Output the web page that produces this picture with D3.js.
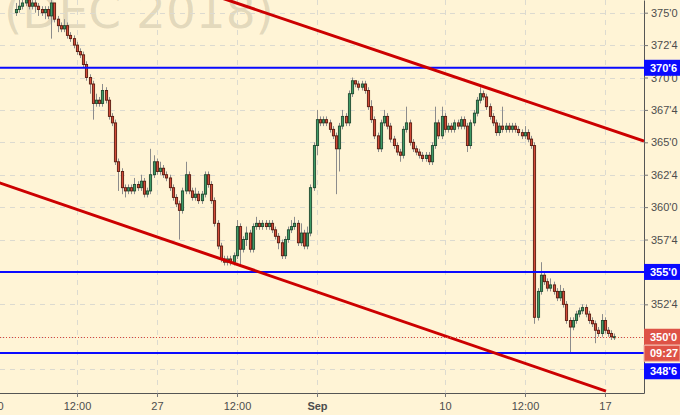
<!DOCTYPE html>
<html>
<head>
<meta charset="utf-8">
<script src="https://cdn.jsdelivr.net/npm/d3@7"></script>
<style>
 html,body{margin:0;padding:0;background:#fff4d6;}
 svg{display:block;}
 .tick text{font-family:"Liberation Sans",Arial,sans-serif;font-size:11px;fill:#4d4d4d;}
</style>
</head>
<body>
<div id="chart"></div>
<script>
// bars are 10 per trading day, the first one sits at day 0.594 (day 0 = Mon Aug 20)
var firstOpen=375.0;
var aug20Close=[375.25,375.5,375.75,376.0,375.5,375.75,375.5,375.25,375.0,375.25,374.75,375.75,374.5,374.0,373.75,374.0,373.25,373.0,372.5,372.0,371.75,371.0,370.0,369.5,368.0,368.25,368.0,369.0,368.25,367.0,366.5,363.5,362.75,361.5,361.25,361.5,361.25,361.75,361.5,362.0,361.0,361.25,362.5,363.5];
var aug20High=[375.75,376.0,376.25,376.5,376.25,376.25,376.0,375.75,375.5,375.5,375.5,376.25,375.75,374.75,374.25,374.5,374.25,373.5,373.25,372.75,372.25,372.0,371.25,370.25,369.75,368.75,368.5,369.5,369.25,368.5,367.25,366.75,363.75,363.0,361.75,361.75,361.75,362.25,362.0,362.5,362.25,361.5,364.5,364.0];
var aug20Low=[374.75,375.0,375.25,375.5,375.25,375.25,375.0,374.75,374.75,374.5,374.5,373.0,374.25,373.5,373.5,373.5,373.0,372.75,372.25,371.75,371.5,370.75,369.75,368.75,366.75,367.75,367.75,367.75,368.0,366.75,366.25,363.25,361.25,361.0,360.75,361.0,361.0,361.0,361.25,361.25,360.75,360.75,361.0,362.25];
var aug27Close=[362.75,363.0,362.5,362.25,361.5,360.75,360.25,359.75,361.25,362.5,361.25,360.75,361.0,360.5,361.0,362.5,361.75,360.5,358.75,357.0,356.0,355.75,356.0,355.75,356.25,358.5,356.75,357.5,358.0,356.75,358.5,358.75,358.5,358.75,358.5,358.75,358.25,357.75,357.25,356.25,357.5,358.25,358.5,358.75,357.25,358.0,357.0,358.0,361.5,364.75];
var aug27High=[363.75,363.5,363.25,362.75,362.5,361.75,361.0,360.5,361.5,363.5,362.75,361.5,361.5,361.25,361.25,362.75,362.75,362.0,360.75,359.0,357.25,356.25,356.25,356.25,356.5,359.0,358.75,357.75,358.5,358.25,358.75,359.25,359.0,359.0,359.0,359.0,359.0,358.5,358.0,357.5,357.75,358.5,359.0,359.25,359.0,358.75,358.25,358.5,361.75,365.0];
var aug27Low=[362.5,362.5,362.25,362.0,361.25,360.5,360.0,357.5,359.5,361.0,361.0,360.5,360.5,360.25,360.25,360.75,361.5,360.25,358.5,356.75,355.75,355.5,355.5,355.5,355.5,356.0,355.5,356.5,357.0,356.5,356.5,358.25,358.25,358.25,358.25,358.25,358.0,357.5,356.75,356.0,356.0,357.25,358.0,358.25,357.0,357.0,356.75,356.75,357.75,361.25];
var sep4Close=[366.75,366.5,366.75,366.5,366.0,365.5,364.5,366.25,367.0,366.5,368.75,369.75,369.5,369.25,369.5,369.0,367.75,366.75,365.5,364.5,366.5,367.0,366.25,365.25,364.75,364.25,364.0,366.0,366.5,365.0,364.5,364.25,364.0,363.75,364.0,363.5,364.75,366.5,365.5,367.0];
var sep4High=[367.5,367.0,367.0,367.0,366.75,366.25,365.75,366.5,367.5,367.25,369.0,370.0,369.75,369.75,369.75,369.75,369.25,368.25,367.0,365.75,366.75,367.5,367.25,366.5,365.5,365.0,364.5,366.25,367.75,366.75,365.25,364.75,364.5,364.25,364.25,364.25,365.0,367.75,366.75,367.75];
var sep4Low=[364.0,366.25,366.25,366.25,365.75,365.25,361.0,362.75,366.0,366.25,366.25,368.5,369.25,369.0,369.0,368.75,367.5,366.5,365.25,364.25,364.25,366.25,366.0,365.0,364.5,364.0,363.5,363.75,365.75,364.75,364.25,364.0,363.75,363.5,363.5,363.25,363.25,364.5,365.25,365.25];
var sep10Close=[366.0,366.25,366.0,366.5,366.25,366.75,366.25,364.75,366.5,367.25,368.25,368.75,368.5,367.75,367.0,366.5,365.75,366.25,366.0,366.25,366.0,366.25,366.0,365.75,365.5,365.75,365.25,364.75,351.5,353.5,354.75,354.25,353.75,354.0,353.5,353.0,353.5,352.5,351.25,350.75,351.25,351.75,352.0,352.25,351.75,351.25,351.0,350.5,350.25,351.25,350.5,350.25,350.0,350.0];
var sep10High=[367.25,366.5,366.5,366.75,366.75,367.0,367.0,366.5,366.75,367.5,368.5,369.25,369.0,368.75,368.0,367.25,366.75,366.5,367.75,366.5,366.5,366.5,366.5,366.25,366.0,366.25,366.0,365.5,365.0,353.75,355.75,355.0,354.5,354.5,354.25,353.75,354.0,353.75,352.75,351.5,351.5,352.0,352.25,352.5,352.5,352.0,351.5,351.25,350.75,351.75,351.5,350.75,350.5,350.25];
var sep10Low=[365.75,365.75,365.75,365.75,366.0,366.0,366.0,364.25,364.5,366.25,367.0,368.0,368.25,367.5,366.75,366.25,365.5,365.5,365.75,365.75,365.75,365.75,365.75,365.5,365.25,365.25,365.0,364.5,351.0,351.25,353.25,354.0,353.5,353.5,353.25,352.75,352.75,352.25,351.0,348.75,350.5,351.0,351.5,351.75,351.5,351.0,350.75,349.5,350.0,350.0,350.25,350.0,349.75,349.75];

var yTicks=[347.5,350,352.5,355,357.5,360,362.5,365,367.5,370,372.5,375];
var xTickDays=[0,2.5,5,7.5,10,14,16.5,19];
var xTickLabels=["20","12:00","27","12:00","Sep","10","12:00","17"];
var levels=[370.75,355.0,348.75];
var lastPrice=350.0;
var countdown="09:27";
var upperTrend=[[7.0,376.15],[20.22,365.1]];
var lowerTrend=[[0.0,361.94],[19.03,345.8]];
var title="(DEC 2018)";

(function()
{
 "use strict";
 var W=680,H=415,plotR=644,plotB=393;
 var barStartDay=0.594,barsPerDay=10;
 var closes=aug20Close.concat(aug27Close,sep4Close,sep10Close);
 var highs=aug20High.concat(aug27High,sep4High,sep10High);
 var lows=aug20Low.concat(aug27Low,sep4Low,sep10Low);
 var bars=closes.map(function(c,i)
 {
  return {i:i,o:i===0?firstOpen:closes[i-1],c:c,h:highs[i],l:lows[i]};
 });

 var x=d3.scaleLinear().domain([0,20.219]).range([-3,plotR]);
 var y=d3.scaleLinear().domain([345.66,375.98]).range([plotB,0]);
 var fmt=function(p)
 {
  var n=Math.floor(p+1e-9);
  return n+"'"+Math.round((p-n)*8);
 };
 var bx=function(b){return x(barStartDay+b.i/barsPerDay);};

 var svg=d3.select("#chart").append("svg").attr("width",W).attr("height",H);
 svg.append("rect").attr("width",W).attr("height",H).attr("fill","#fff4d6");
 svg.append("defs").append("clipPath").attr("id","plot").append("rect").attr("width",plotR).attr("height",plotB);

 svg.append("text").attr("x",4).attr("y",28).text(title)
  .attr("font-family","DejaVu Sans,sans-serif").attr("font-size",47)
  .attr("fill","rgba(110,100,80,0.2)");

 var grid=svg.append("g").attr("clip-path","url(#plot)").attr("stroke","#dcdad0").attr("stroke-dasharray","5,5");
 grid.selectAll("line.h").data(yTicks).join("line").attr("class","h")
  .attr("x1",0).attr("x2",plotR).attr("y1",function(d){return Math.round(y(d))+0.5;}).attr("y2",function(d){return Math.round(y(d))+0.5;});
 grid.selectAll("line.v").data(xTickDays).join("line").attr("class","v")
  .attr("y1",0).attr("y2",plotB).attr("x1",function(d){return Math.round(x(d))+0.5;}).attr("x2",function(d){return Math.round(x(d))+0.5;});

 var g=svg.append("g").attr("clip-path","url(#plot)");
 g.selectAll("line.wick").data(bars).join("line").attr("class","wick")
  .attr("x1",function(b){return Math.round(bx(b))+0.5;}).attr("x2",function(b){return Math.round(bx(b))+0.5;})
  .attr("y1",function(b){return y(b.h);}).attr("y2",function(b){return y(b.l);})
  .attr("stroke","#8c8c8c").attr("stroke-width",1);
 g.selectAll("rect.body").data(bars).join("rect").attr("class","body")
  .attr("x",function(b){return Math.round(bx(b))-0.6;}).attr("width",2.2)
  .attr("y",function(b){return y(Math.max(b.o,b.c));})
  .attr("height",function(b){return Math.max(1,Math.abs(y(b.o)-y(b.c)));})
  .attr("fill",function(b){return b.c>=b.o?"#3f9a66":"#d24a38";})
  .attr("stroke",function(b){return b.c>=b.o?"#1f4a30":"#5a1c10";}).attr("stroke-width",0.9);

 g.selectAll("line.level").data(levels).join("line").attr("class","level")
  .attr("x1",0).attr("x2",plotR).attr("y1",function(d){return y(d);}).attr("y2",function(d){return y(d);})
  .attr("stroke","#0a0aff").attr("stroke-width",2);
 var line=d3.line().x(function(d){return x(d[0]);}).y(function(d){return y(d[1]);});
 g.selectAll("path.trend").data([upperTrend,lowerTrend]).join("path").attr("class","trend")
  .attr("d",line).attr("fill","none").attr("stroke","#cc0000").attr("stroke-width",3);
 g.append("line").attr("x1",0).attr("x2",plotR).attr("y1",Math.round(y(lastPrice))+0.5).attr("y2",Math.round(y(lastPrice))+0.5)
  .attr("stroke","#d9483a").attr("stroke-width",1).attr("stroke-dasharray","1,2");

 var ya=svg.append("g").attr("transform","translate("+plotR+",0)")
  .call(d3.axisRight(y).tickValues(yTicks).tickFormat(fmt).tickSize(4).tickSizeOuter(0).tickPadding(3));
 var xa=svg.append("g").attr("transform","translate(0,"+plotB+")")
  .call(d3.axisBottom(x).tickValues(xTickDays).tickFormat(function(d,i){return xTickLabels[i];}).tickSize(4).tickSizeOuter(0).tickPadding(5));
 [ya,xa].forEach(function(a)
 {
  a.select(".domain").attr("stroke","#555");
  a.selectAll(".tick line").attr("stroke","#777");
 });
 // the 347'4 label sits under the 348'6 tag in the original
 ya.selectAll(".tick text").filter(function(d){return d<levels[2];}).remove();
 xa.selectAll(".tick text").attr("font-weight",function(d,i){return xTickLabels[i]==="Sep"?"bold":null;});

 var tag=function(cy,txt,fill,stroke)
 {
  var t=svg.append("g");
  t.append("rect").attr("x",plotR).attr("y",cy-8).attr("width",W-plotR).attr("height",16)
   .attr("fill",fill).attr("stroke",stroke||"none");
  t.append("text").attr("x",plotR+6).attr("y",cy+4).text(txt)
   .attr("font-family","Liberation Sans,Arial,sans-serif").attr("font-size",11).attr("font-weight","bold").attr("fill","#fff");
 };
 tag(y(levels[0]),fmt(levels[0]),"#0a0aff");
 tag(y(levels[1]),fmt(levels[1]),"#0a0aff");
 tag(y(lastPrice),fmt(lastPrice),"#de5246");
 tag(y(lastPrice)+16.5,countdown,"#de5246","#f3b3a8");
 tag(y(lastPrice)+34.5,fmt(levels[2]),"#0a0aff");
}());
</script>
</body>
</html>
